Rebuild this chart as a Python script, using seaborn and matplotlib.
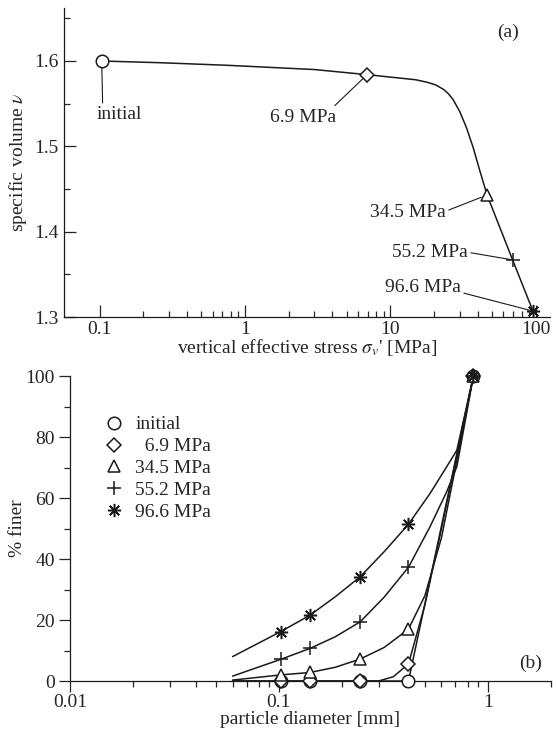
import numpy as np
import matplotlib
matplotlib.use("Agg")
import matplotlib.pyplot as plt
from matplotlib.lines import Line2D
from matplotlib.ticker import FixedLocator, LogLocator, MultipleLocator, FuncFormatter
import seaborn as sns

# (a) compression curve: markers at the load stages
stress = [0.1035, 6.92, 46.3, 69.4, 95.8]
volume = [1.600, 1.584, 1.443, 1.367, 1.307]
stage_labels = ["initial", "6.9 MPa", "34.5 MPa", "55.2 MPa", "96.6 MPa"]

# smooth curve
curve_stress = [0.1035, 0.26, 0.75, 3.0, 6.92, 11.6, 15.0, 18.0, 20.5, 23.1, 25.0,
                27.0, 30.0, 33.4, 37.1, 41.2, 46.3, 69.4, 95.8]
curve_volume = [1.600, 1.598, 1.595, 1.590, 1.584, 1.580, 1.578, 1.575, 1.572, 1.567,
                1.562, 1.555, 1.541, 1.522, 1.499, 1.472, 1.443, 1.367, 1.307]

# (b) grain size distributions
sieve = [0.102, 0.141, 0.245, 0.417, 0.853]
finer_initial = [0, 0, 0, 0, 100]
finer_69 = [0, 0, 0, 5.6, 100]
finer_345 = [2.0, 2.8, 7.2, 17.0, 100]
finer_552 = [7.1, 10.7, 19.4, 37.3, 100]
finer_966 = [16.2, 21.6, 34.2, 51.4, 100]

# fitted curves
fit_x_initial = [0.06, 0.417, 0.853]
fit_y_initial = [0, 0, 100]
fit_x_69 = [0.06, 0.3, 0.353, 0.417, 0.5, 0.6, 0.7, 0.853]
fit_y_69 = [0, 0, 1.4, 5.6, 25, 50, 72, 100]
fit_x_345 = [0.06, 0.102, 0.141, 0.186, 0.245, 0.319, 0.417, 0.5, 0.6, 0.7, 0.853]
fit_y_345 = [0.3, 2.0, 2.8, 4.5, 7.2, 11.0, 17.0, 28.0, 47.0, 70.0, 100]
fit_x_552 = [0.06, 0.102, 0.141, 0.186, 0.245, 0.319, 0.417, 0.529, 0.636, 0.711, 0.853]
fit_y_552 = [1.6, 7.1, 10.7, 14.5, 19.4, 27.5, 37.3, 50.6, 62.1, 70.3, 100]
fit_x_966 = [0.06, 0.102, 0.141, 0.186, 0.245, 0.319, 0.417, 0.529, 0.636, 0.711, 0.853]
fit_y_966 = [8.0, 16.2, 21.6, 27.6, 34.2, 42.4, 51.4, 61.5, 70.3, 75.7, 100]

sns.set_theme(style="ticks")
plt.rcParams["font.family"] = ["Liberation Serif", "DejaVu Serif"]
plt.rcParams["mathtext.fontset"] = "stix"
FS = 14

asterisk = (8, 2, 0)
markers = ["o", "D", "^", "+", asterisk]
msizes = [9, 7, 9, 10.5, 9.5]

fig = plt.figure(figsize=(5.57, 7.34), dpi=100)
ax1 = fig.add_axes([0.115, 0.568, 0.872, 0.421])
ax2 = fig.add_axes([0.1257, 0.0722, 0.863, 0.4155])

# ---- panel (a)
sns.lineplot(x=curve_stress, y=curve_volume, ax=ax1, color="k", lw=1.1, sort=False)
for s, v, m, ms in zip(stress, volume, markers, msizes):
    ax1.plot(s, v, marker=m, ms=ms, mfc="white", mec="k", mew=1.1, ls="none", zorder=3)

ax1.set_xscale("log")
ax1.set_xlim(0.057, 125)
ax1.set_ylim(1.3, 1.662)
ax1.xaxis.set_major_locator(FixedLocator([0.1, 1, 10, 100]))
ax1.xaxis.set_minor_locator(FixedLocator([m * 10.0 ** e for e in (-1, 0, 1) for m in range(2, 10)]))
ax1.xaxis.set_major_formatter(FuncFormatter(lambda v, p: "%g" % v))
ax1.yaxis.set_major_locator(FixedLocator([1.3, 1.4, 1.5, 1.6]))
ax1.yaxis.set_minor_locator(MultipleLocator(0.05))
ax1.set_xlabel(r"vertical effective stress $\sigma_v$' [MPa]", fontsize=FS, labelpad=-1)
ax1.set_ylabel(r"specific volume $\nu$", fontsize=FS)
ax1.yaxis.set_label_coords(-0.072, 0.5)
ax1.tick_params(which="major", direction="in", length=8.5, width=0.9, labelsize=FS)
ax1.tick_params(which="minor", direction="in", length=4, width=0.9)
ax1.tick_params(axis="x", pad=3)
ax1.tick_params(axis="y", pad=4)
sns.despine(ax=ax1)

line_kw = dict(arrowstyle="-", color="k", lw=0.8, shrinkA=0)
ax1.annotate("initial", xy=(stress[0], volume[0]), xytext=(0.0957, 1.537),
             ha="left", va="center", fontsize=FS,
             arrowprops=dict(relpos=(0.13, 1.0), shrinkB=4.5, **line_kw))
ax1.annotate("6.9 MPa", xy=(stress[1], volume[1]), xytext=(1.486, 1.534),
             ha="left", va="center", fontsize=FS,
             arrowprops=dict(relpos=(0.93, 1.0), shrinkB=4.5, **line_kw))
ax1.annotate("34.5 MPa", xy=(stress[2], volume[2]), xytext=(7.23, 1.422),
             ha="left", va="center", fontsize=FS,
             arrowprops=dict(relpos=(1.0, 0.6), shrinkB=4.5, **line_kw))
ax1.annotate("55.2 MPa", xy=(stress[3], volume[3]), xytext=(10.24, 1.376),
             ha="left", va="center", fontsize=FS,
             arrowprops=dict(relpos=(1.0, 0.5), shrinkB=1, **line_kw))
ax1.annotate("96.6 MPa", xy=(stress[4], volume[4]), xytext=(9.17, 1.335),
             ha="left", va="center", fontsize=FS,
             arrowprops=dict(relpos=(1.0, 0.2), shrinkB=2, **line_kw))
ax1.text(0.914, 0.922, "(a)", transform=ax1.transAxes, ha="center", va="center", fontsize=FS)

# ---- panel (b)
fits = [(fit_x_initial, fit_y_initial), (fit_x_69, fit_y_69), (fit_x_345, fit_y_345),
        (fit_x_552, fit_y_552), (fit_x_966, fit_y_966)]
finer = [finer_initial, finer_69, finer_345, finer_552, finer_966]
handles = []
for (fx, fy), fy_pts, m, ms, lab in zip(fits, finer, markers, msizes, stage_labels):
    sns.lineplot(x=fx, y=fy, ax=ax2, color="k", lw=1.1, sort=False)
    ax2.plot(sieve, fy_pts, marker=m, ms=ms, mfc="white", mec="k", mew=1.1, ls="none",
             zorder=3, clip_on=False)
    handles.append(Line2D([], [], marker=m, ms=ms, mfc="white", mec="k", mew=1.1, ls="none"))

ax2.set_xscale("log")
ax2.set_xlim(0.01, 2)
ax2.set_ylim(0, 100)
ax2.xaxis.set_major_locator(FixedLocator([0.01, 0.1, 1]))
ax2.xaxis.set_minor_locator(LogLocator(base=10, subs=np.arange(2, 10)))
ax2.xaxis.set_major_formatter(FuncFormatter(lambda v, p: "%g" % v))
ax2.yaxis.set_major_locator(MultipleLocator(20))
ax2.yaxis.set_minor_locator(MultipleLocator(10))
ax2.set_xlabel("particle diameter [mm]", fontsize=FS, labelpad=0)
ax2.set_ylabel("% finer", fontsize=FS)
ax2.yaxis.set_label_coords(-0.091, 0.5)
ax2.tick_params(which="major", direction="out", length=8, width=0.9, labelsize=FS)
ax2.tick_params(which="minor", direction="out", length=4, width=0.9)
ax2.tick_params(axis="x", pad=1)
ax2.tick_params(axis="y", pad=3)
sns.despine(ax=ax2)

leg_labels = ["initial", "\u20076.9 MPa", "34.5 MPa", "55.2 MPa", "96.6 MPa"]
ax2.legend(handles, leg_labels, loc="upper left", bbox_to_anchor=(0.051, 0.895),
           frameon=False, handlelength=1.2, handletextpad=0.5, labelspacing=0.22,
           fontsize=FS, borderaxespad=0)
ax2.text(0.958, 0.059, "(b)", transform=ax2.transAxes, ha="center", va="center", fontsize=FS)

for ax in (ax1, ax2):
    for sp in ax.spines.values():
        sp.set_linewidth(0.9)
        sp.set_color("k")

fig.savefig("out.png", dpi=100)
